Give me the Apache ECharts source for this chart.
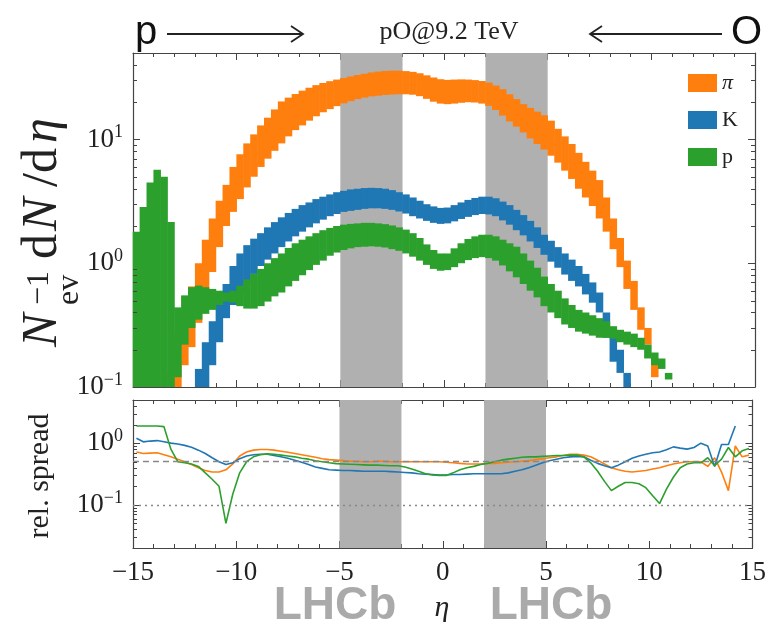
<!DOCTYPE html>
<html><head><meta charset="utf-8">
<script src="https://cdn.jsdelivr.net/npm/echarts@6/dist/echarts.min.js"></script>
<style>html,body{margin:0;padding:0;background:#fff}#c{width:769px;height:626px}</style>
</head><body><div id="c"></div>
<script>
// ---- binning (eta from -15 to 15 in bins of 1/3) ----
const etaMin = -15, binWidth = 1/3, nBins = 90;
const N = null;
// ---- top panel: band lower / upper edges per bin ----
const piLo = [N,N,N,N,N,0.1,0.1,0.15,0.21,0.33, 0.52,0.85,1.35,2.0,2.6,3.3,4.1,5.0,6.0,7.0, 8.1,9.3,10.6,11.9,13.0,14.2,15.4,16.6,17.6,18.6, 19.6,20.4,21.2,21.8,22.3,22.6,22.9,23.1,23.2,23.2, 23.0,22.4,21.3,20.2,19.5,19.3,19.5,19.8,20.0,19.9, 19.5,18.7,17.3,15.6,14.0,12.7,11.4,10.2,9.2,8.3, 7.4,6.5,5.6,4.8,4.0,3.4,2.9,2.3,1.8,1.3, 0.93,0.62,0.42,0.29,0.22,0.12,N,N,N,N, N,N,N,N,N,N,N,N,N,N];
const piHi = [N,N,N,N,N,0.13,0.27,0.42,0.65,1.0, 1.55,2.3,3.2,4.3,6.0,7.6,9.3,11,13,15, 17.5,20.3,21.8,23.3,24.8,26.2,27.5,28.6,29.6,30.5, 31.4,32.3,33.2,34.0,34.8,35.4,35.8,36,36,35.7, 35.2,34.3,33.0,31.7,30.7,30.3,30.5,30.6,30.5,30.2, 29.7,28.8,27.3,25.5,23.2,21.2,19.3,18,16.8,15.7, 14.2,12.2,10.6,9.2,7.8,6.6,5.6,4.7,3.4,2.3, 1.6,1.05,0.72,0.44,0.3,0.17,N,N,N,N, N,N,N,N,N,N,N,N,N,N];
const kLo = [N,N,N,N,N,N,N,N,N,0.1, 0.1,0.15,0.23,0.36,0.46,0.58,0.7,0.82,0.95,1.07, 1.2,1.35,1.5,1.65,1.8,1.95,2.1,2.25,2.4,2.5, 2.6,2.65,2.7,2.75,2.78,2.78,2.75,2.7,2.62,2.52, 2.4,2.3,2.2,2.12,2.08,2.1,2.18,2.28,2.37,2.45, 2.5,2.48,2.4,2.22,2.05,1.85,1.68,1.5,1.33,1.17, 1.03,0.92,0.81,0.72,0.65,0.56,0.48,0.4,0.25,0.16, 0.13,0.1,N,N,N,N,N,N,N,N, N,N,N,N,N,N,N,N,N,N];
const kHi = [N,N,N,N,N,N,N,N,N,0.14, 0.23,0.34,0.48,0.68,0.95,1.2,1.4,1.58,1.75,1.95, 2.15,2.35,2.55,2.75,2.95,3.1,3.3,3.45,3.6,3.75, 3.85,3.95,4.0,4.05,4.07,4.05,4.0,3.9,3.75,3.6, 3.4,3.2,3.0,2.88,2.8,2.82,2.95,3.1,3.25,3.37, 3.45,3.45,3.35,3.15,2.95,2.7,2.45,2.2,1.95,1.7, 1.52,1.35,1.2,1.07,0.95,0.82,0.7,0.58,0.4,0.27, 0.2,0.13,N,N,N,N,N,N,N,N, N,N,N,N,N,N,N,N,N,N];
const pLo = [0.1,0.1,0.1,0.1,0.1,0.1,0.12,0.22,0.3,0.35, 0.39,0.42,0.46,0.49,0.48,0.45,0.43,0.43,0.45,0.49, 0.54,0.58,0.65,0.72,0.8,0.88,0.97,1.05,1.15,1.22, 1.28,1.32,1.35,1.36,1.37,1.36,1.34,1.3,1.26,1.2, 1.13,1.05,0.97,0.9,0.87,0.88,0.93,1.0,1.06,1.1, 1.12,1.1,1.05,0.96,0.86,0.77,0.68,0.6,0.53,0.45, 0.4,0.36,0.32,0.3,0.28,0.27,0.26,0.25,0.25,0.245, 0.23,0.22,0.21,0.2,0.17,0.15,0.14,0.115,N,N, N,N,N,N,N,N,N,N,N,N];
const pHi = [1.8,2.85,4.5,5.7,5.0,2.15,0.44,0.55,0.64,0.66, 0.64,0.62,0.6,0.58,0.6,0.66,0.74,0.82,0.9,1.0, 1.1,1.2,1.33,1.45,1.55,1.65,1.75,1.85,1.93,2.0, 2.05,2.08,2.1,2.12,2.12,2.1,2.07,2.02,1.95,1.87, 1.75,1.6,1.42,1.28,1.2,1.2,1.32,1.45,1.57,1.65, 1.7,1.7,1.65,1.55,1.45,1.36,1.2,1.05,0.92,0.78, 0.68,0.6,0.52,0.46,0.42,0.4,0.38,0.36,0.34,0.31, 0.29,0.28,0.27,0.25,0.22,0.19,0.17,0.13,N,N, N,N,N,N,N,N,N,N,N,N];
// ---- bottom panel: relative spread per bin ----
const piSpread = [0.72,0.68,0.69,0.7,0.65,0.6,0.55,0.5,0.45,0.4, 0.36,0.34,0.34,0.37,0.46,0.62,0.72,0.77,0.79,0.79, 0.77,0.74,0.71,0.68,0.65,0.62,0.59,0.56,0.54,0.53, 0.52,0.51,0.51,0.5,0.5,0.51,0.51,0.5,0.5,0.5, 0.5,0.5,0.5,0.5,0.5,0.49,0.48,0.47,0.46,0.46, 0.46,0.47,0.47,0.48,0.49,0.5,0.51,0.52,0.54,0.56, 0.58,0.6,0.63,0.66,0.66,0.64,0.6,0.53,0.46,0.4, 0.37,0.35,0.34,0.35,0.36,0.38,0.4,0.43,0.46,0.48, 0.5,0.5,0.5,0.42,0.58,0.34,0.17,0.9,0.6,0.64];
const kSpread = [1.2,1.05,1.08,1.1,1.05,1.0,0.97,0.92,0.86,0.77, 0.68,0.58,0.5,0.45,0.48,0.56,0.62,0.65,0.66,0.66, 0.63,0.6,0.57,0.53,0.49,0.45,0.41,0.39,0.37,0.365, 0.36,0.36,0.355,0.35,0.35,0.35,0.35,0.345,0.34,0.335, 0.33,0.32,0.315,0.31,0.305,0.305,0.31,0.31,0.315,0.32, 0.32,0.32,0.32,0.32,0.33,0.35,0.37,0.4,0.44,0.48, 0.52,0.55,0.58,0.6,0.61,0.6,0.53,0.47,0.43,0.4, 0.44,0.5,0.57,0.62,0.66,0.7,0.72,0.78,0.87,0.83, 0.8,0.85,1.0,0.9,0.42,0.95,0.95,1.9,N,N];
const pSpread = [1.9,1.9,1.9,1.9,1.85,0.8,0.5,0.48,0.46,0.42, 0.33,0.26,0.2,0.05,0.15,0.33,0.5,0.6,0.65,0.67, 0.66,0.64,0.62,0.6,0.57,0.55,0.52,0.5,0.48,0.465, 0.46,0.455,0.45,0.445,0.44,0.44,0.435,0.43,0.43,0.41, 0.38,0.35,0.32,0.305,0.3,0.3,0.33,0.37,0.4,0.42, 0.45,0.47,0.5,0.53,0.55,0.57,0.59,0.6,0.6,0.61, 0.62,0.63,0.63,0.64,0.64,0.6,0.48,0.35,0.24,0.17, 0.2,0.23,0.23,0.22,0.19,0.14,0.105,0.18,0.28,0.4, 0.46,0.48,0.48,0.58,0.43,0.55,0.85,0.6,0.75,0.82];
// ---- other chart content ----
const speciesNames = ['π', 'K', 'p'];
const lhcbRanges = [[-5, -2], [2, 5]];
const spreadRefLines = [0.5, 0.1];
const xTicks = [-15, -10, -5, 0, 5, 10, 15];
const topMinorTicks = [0.2,0.3,0.4,0.5,0.6,0.7,0.8,0.9,2,3,4,5,6,7,8,9,20,30,40];
const bottomMinorTicks = [0.03,0.04,0.05,0.06,0.07,0.08,0.09,0.2,0.3,0.4,0.5,0.6,0.7,0.8,0.9,2,3,4];

const colors = ['#ff7f0e', '#1f77b4', '#2ca02c'];
const axisColor = '#444';
const serif = '"Liberation Serif", "DejaVu Serif", serif';

function bandData(lo, hi) {
  const out = [];
  for (let i = 0; i < nBins; i++) {
    if (lo[i] == null || hi[i] == null) continue;
    const x0 = etaMin + i * binWidth;
    out.push([x0, x0 + binWidth, lo[i], hi[i]]);
  }
  return out;
}
function lineData(v) {
  const out = [];
  for (let i = 0; i < nBins; i++) out.push([etaMin + (i + 0.5) * binWidth, v[i]]);
  return out;
}
function renderBand(params, api) {
  const x0 = api.value(0), x1 = api.value(1), lo = api.value(2), hi = api.value(3);
  const a = api.coord([x0, hi]), b = api.coord([x1, lo]);
  const cs = params.coordSys;
  const top = Math.max(a[1], cs.y), bot = Math.min(b[1], cs.y + cs.height);
  const left = Math.max(a[0], cs.x), right = Math.min(b[0], cs.x + cs.width);
  if (bot <= top || right <= left) return null;
  return { type: 'rect', shape: { x: left - 0.3, y: top, width: right - left + 0.6, height: bot - top },
           style: { fill: api.visual('color') } };
}
function renderMinor(params, api) {
  const cs = params.coordSys;
  const y = Math.round(api.coord([0, api.value(1)])[1]) + 0.5;
  return { type: 'group', children: [
    { type: 'line', shape: { x1: cs.x, y1: y, x2: cs.x + 4, y2: y }, style: { stroke: axisColor, lineWidth: 1 } },
    { type: 'line', shape: { x1: cs.x + cs.width - 4, y1: y, x2: cs.x + cs.width, y2: y }, style: { stroke: axisColor, lineWidth: 1 } }
  ] };
}
function powLabel(v) {
  const e = Math.round(Math.log10(v));
  if (Math.abs(Math.log10(v) - e) > 1e-6) return '';
  return '{b|10}{s|' + (e < 0 ? '\u2212' + (-e) : e) + '}';
}
const powRich = { b: { fontSize: 27, fontFamily: serif, color: '#222', lineHeight: 32 },
                  s: { fontSize: 18, fontFamily: serif, color: '#222', verticalAlign: 'top', lineHeight: 20 } };

function xAx(grid, pos, labels) {
  return { gridIndex: grid, type: 'value', min: -15, max: 15, interval: 5, position: pos,
    axisLine: { show: true, onZero: false, lineStyle: { color: axisColor, width: 1.2 } },
    axisTick: { show: true, inside: true, length: 7, lineStyle: { color: axisColor } },
    minorTick: { show: true, splitNumber: 5, length: 4, lineStyle: { color: axisColor } },
    splitLine: { show: false },
    axisLabel: labels ? { show: true, margin: 11, fontSize: 27, fontFamily: serif, color: '#222',
      formatter: v => xTicks.indexOf(v) < 0 ? '' : (v < 0 ? '\u2212' + (-v) : '' + v) } : { show: false } };
}
function yAx(grid, pos, min, max, labels) {
  return { gridIndex: grid, type: 'log', logBase: 10, min: min, max: max, position: pos,
    axisLine: { show: true, onZero: false, lineStyle: { color: axisColor, width: 1.2 } },
    axisTick: { show: true, inside: true, length: 7, lineStyle: { color: axisColor } },
    splitLine: { show: false },
    axisLabel: labels ? { show: true, margin: 10, formatter: powLabel, rich: powRich } : { show: false } };
}

const series = [];
// gray LHCb acceptance bands (both panels)
[0, 1].forEach(g => {
  series.push({ type: 'line', name: 'acc' + g, xAxisIndex: g * 2, yAxisIndex: g * 2, data: [], silent: true, z: 0,
    markArea: { silent: true, itemStyle: { color: '#b0b0b0' },
      data: lhcbRanges.map(r => [{ xAxis: r[0] }, { xAxis: r[1] }]) },
    markLine: g === 1 ? { silent: true, symbol: 'none', label: { show: false },
      data: spreadRefLines.map((v, j) => ({ yAxis: v, lineStyle: { color: '#888', width: 1.4, type: j === 0 ? [6, 4] : [2, 4] } })) } : undefined
  });
});
const bands = [[piLo, piHi], [kLo, kHi], [pLo, pHi]];
bands.forEach((b, k) => {
  series.push({ type: 'custom', name: speciesNames[k], xAxisIndex: 0, yAxisIndex: 0, z: 2,
    itemStyle: { color: colors[k] }, renderItem: renderBand, encode: { x: [0, 1], y: [2, 3] },
    data: bandData(b[0], b[1]), silent: true });
});
[piSpread, kSpread, pSpread].forEach((v, k) => {
  series.push({ type: 'line', name: speciesNames[k] + ' spread', xAxisIndex: 2, yAxisIndex: 2, z: 3,
    data: lineData(v), showSymbol: false, connectNulls: false, silent: true,
    lineStyle: { color: colors[k], width: 1.6 }, itemStyle: { color: colors[k] } });
});
// log minor ticks on left / right frame
[[topMinorTicks, 0], [bottomMinorTicks, 2]].forEach(([ticks, ax]) => {
  series.push({ type: 'custom', name: 'minor' + ax, xAxisIndex: ax, yAxisIndex: ax, z: 5, silent: true,
    renderItem: renderMinor, encode: { x: 0, y: 1 }, data: ticks.map(t => [0, t]) });
});

const chart = echarts.init(document.getElementById('c'), null, { renderer: 'canvas' });
chart.setOption({
  animation: false,
  backgroundColor: '#fff',
  grid: [{ left: 133, top: 53, width: 622, height: 334 }, { left: 133, top: 400, width: 622, height: 148 }],
  xAxis: [xAx(0, 'bottom', false), xAx(0, 'top', false), xAx(1, 'bottom', true), xAx(1, 'top', false)],
  yAxis: [yAx(0, 'left', 0.1, 50, true), yAx(0, 'right', 0.1, 50, false), yAx(1, 'left', 0.02, 5, true), yAx(1, 'right', 0.02, 5, false)],
  legend: { orient: 'vertical', left: 683, top: 67, itemWidth: 29, itemHeight: 18, itemGap: 15,
    data: speciesNames.map(n => ({ name: n, icon: 'rect' })),
    formatter: n => n === 'π' ? '{it|π}' : n,
    textStyle: { fontFamily: serif, fontSize: 22, color: '#222', rich: { it: { fontFamily: serif, fontStyle: 'italic', fontSize: 22, color: '#222' } } },
    selectedMode: false },
  series: series,
  graphic: [
    { type: 'text', x: 135, y: 33, style: { text: 'p', font: '40px "Liberation Sans"', fill: '#111', verticalAlign: 'middle' } },
    { type: 'polyline', shape: { points: [[167, 34], [303, 34]] }, style: { stroke: '#222', lineWidth: 1.8, fill: null } },
    { type: 'polyline', shape: { points: [[291, 26], [303, 34], [291, 42]] }, style: { stroke: '#222', lineWidth: 1.8, fill: null } },
    { type: 'text', x: 449, y: 32, style: { text: 'pO@9.2 TeV', font: '26px ' + serif, fill: '#222', align: 'center', verticalAlign: 'middle' } },
    { type: 'polyline', shape: { points: [[590, 34], [722, 34]] }, style: { stroke: '#222', lineWidth: 1.8, fill: null } },
    { type: 'polyline', shape: { points: [[602, 26], [590, 34], [602, 42]] }, style: { stroke: '#222', lineWidth: 1.8, fill: null } },
    { type: 'text', x: 762, y: 33, style: { text: 'O', font: '40px "Liberation Sans"', fill: '#111', align: 'right', verticalAlign: 'middle' } },
    { type: 'group', x: 58, y: 347, rotation: Math.PI / 2, children: [
      { type: 'text', x: 0, y: -15, style: { text: 'N', font: 'italic 50px ' + serif, fill: '#222', verticalAlign: 'middle' } },
      { type: 'text', x: 42, y: 12, style: { text: 'ev', font: '32px ' + serif, fill: '#222', verticalAlign: 'middle' } },
      { type: 'text', x: 42, y: -18, style: { text: '\u22121', font: '32px ' + serif, fill: '#222', verticalAlign: 'middle' } },
      { type: 'text', x: 88, y: -15, style: { text: 'd', font: '50px ' + serif, fill: '#222', verticalAlign: 'middle' } },
      { type: 'text', x: 116, y: -15, style: { text: 'N', font: 'italic 50px ' + serif, fill: '#222', verticalAlign: 'middle' } },
      { type: 'text', x: 160, y: -15, style: { text: '/d', font: '50px ' + serif, fill: '#222', verticalAlign: 'middle' } },
      { type: 'text', x: 204, y: -15, style: { text: 'η', font: 'italic 50px ' + serif, fill: '#222', verticalAlign: 'middle' } }
    ] },
    { type: 'text', x: 40, y: 476, rotation: Math.PI / 2, style: { text: 'rel. spread', font: '30px ' + serif, fill: '#222', align: 'center', verticalAlign: 'middle' } },
    { type: 'text', x: 442, y: 608, style: { text: 'η', font: 'italic 30px ' + serif, fill: '#222', align: 'center', verticalAlign: 'middle' } },
    { type: 'text', x: 335, y: 606, style: { text: 'LHCb', font: 'bold 46px "Liberation Sans"', fill: '#aaaaaa', align: 'center', verticalAlign: 'middle' } },
    { type: 'text', x: 551, y: 606, style: { text: 'LHCb', font: 'bold 46px "Liberation Sans"', fill: '#aaaaaa', align: 'center', verticalAlign: 'middle' } }
  ]
});
</script>
</body></html>
